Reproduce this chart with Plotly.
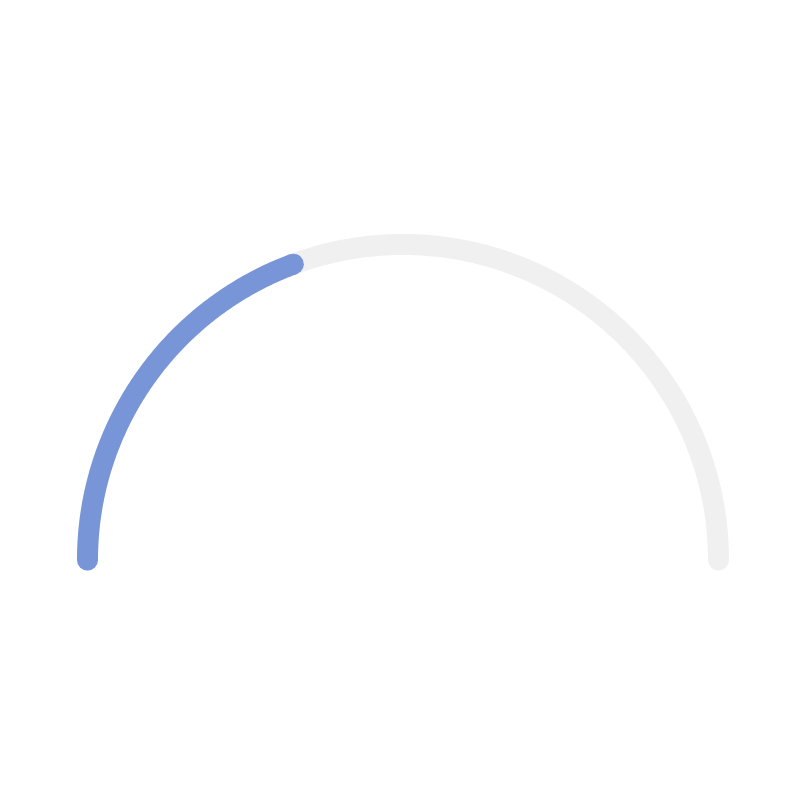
import numpy as np
import plotly.graph_objects as go

# Data
value = 38.7
max_value = 100.0
track_color = "#f0f0f0"
bar_color = "#7895d8"

start_angle = 180.0
end_angle = 0.0
value_angle = start_angle - (start_angle - end_angle) * value / max_value

track_theta = np.linspace(start_angle, end_angle, 361)
bar_theta = np.linspace(start_angle, value_angle, 200)

LW = 21

fig = go.Figure()
fig.add_trace(go.Scatterpolar(
    r=np.ones_like(track_theta), theta=track_theta, mode="lines",
    line=dict(color=track_color, width=LW), cliponaxis=False, hoverinfo="skip"))
fig.add_trace(go.Scatterpolar(
    r=[1, 1], theta=[track_theta[0], track_theta[-1]], mode="markers",
    marker=dict(color=track_color, size=LW, line=dict(width=0)), cliponaxis=False, hoverinfo="skip"))
fig.add_trace(go.Scatterpolar(
    r=np.ones_like(bar_theta), theta=bar_theta, mode="lines",
    line=dict(color=bar_color, width=LW), cliponaxis=False, name="value"))
fig.add_trace(go.Scatterpolar(
    r=[1, 1], theta=[bar_theta[0], bar_theta[-1]], mode="markers",
    marker=dict(color=bar_color, size=LW, line=dict(width=0)), cliponaxis=False, hoverinfo="skip"))

fig.update_layout(
    width=800, height=800,
    margin=dict(l=0, r=0, t=0, b=0),
    paper_bgcolor="white",
    showlegend=False,
    polar=dict(
        domain=dict(x=[0.0836, 0.9039], y=[0.3100, 0.7202]),
        sector=[0, 180],
        bgcolor="rgba(0,0,0,0)",
        radialaxis=dict(visible=False, range=[0, 1.04]),
        angularaxis=dict(visible=False, direction="counterclockwise", rotation=0),
    ),
)

fig.write_html("out.html")
